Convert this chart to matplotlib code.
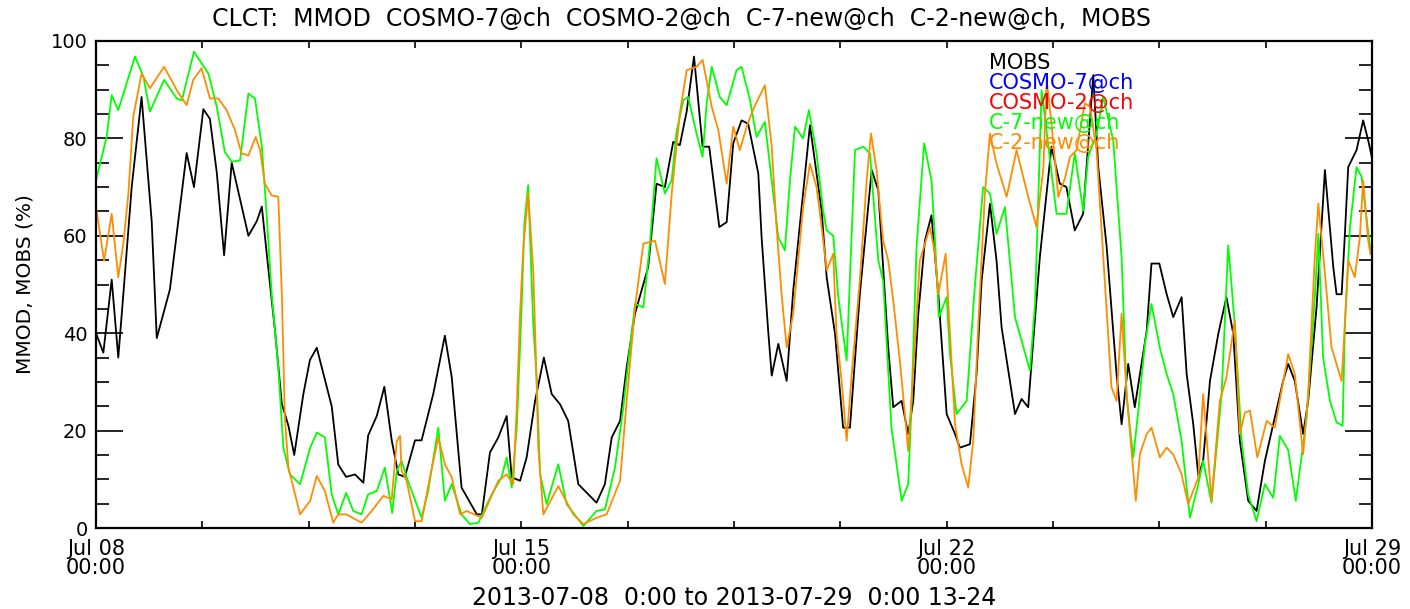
import matplotlib
matplotlib.use('Agg')
import matplotlib.pyplot as plt
from matplotlib.ticker import MultipleLocator, FixedLocator

# hours since 2013-07-08 00:00, cloud cover in %
mobs = [(0, 40), (2.9, 36), (6.2, 51), (8.8, 35), (10.8, 48), (14.1, 70), (18, 88.5), (22, 63), (24, 39),
        (29.2, 49), (35.8, 77), (38.7, 70), (42.4, 86), (45, 84), (47.7, 73), (50.6, 56), (53.6, 75),
        (60.2, 60), (63.5, 63), (65.5, 66), (67.5, 56), (70.8, 40), (73.4, 25.5), (76, 21), (78.3, 15),
        (81.9, 27.5), (84.5, 34.5), (87.2, 37), (93.1, 25), (95.7, 13), (98.8, 10.5), (102.3, 11),
        (105.6, 9.3), (107.5, 19), (110.9, 23), (113.9, 29), (116.8, 18), (119.4, 11), (122, 10.5),
        (126, 18), (128.6, 18), (133.2, 27.5), (137.8, 39.5), (140.5, 31), (144.4, 8.3), (150.4, 2.8),
        (152.4, 2.8), (155.6, 15.5), (158.9, 18.6), (162.2, 23), (164.2, 10.4), (167.5, 9.7),
        (170.1, 14.5), (173.4, 26), (176.9, 35), (180, 27.5), (183.3, 25.4), (186.5, 22), (190.5, 9),
        (197.7, 5.2), (201, 9), (203.7, 18.6), (207, 22), (209.6, 33), (212.9, 44), (218.1, 53.6),
        (221.4, 70.7), (224.7, 70), (228, 79.3), (230.6, 78.6), (233.3, 85.5), (236.2, 96.8),
        (239.6, 78.3), (242.2, 78.3), (246.2, 61.8), (249.1, 62.8), (251.7, 79), (255, 83.7),
        (257.6, 83), (261.6, 72.8), (262.9, 59.7), (265.5, 40.5), (266.9, 31.3), (269.5, 37.8),
        (272.8, 30.2), (275.4, 48.8), (282, 82.7), (286.6, 65.2), (288.6, 51.5), (291.9, 39.9),
        (295.1, 20.6), (297.8, 20.6), (301.7, 48), (306.4, 73.5), (309, 69.3), (312.9, 37.1),
        (314.9, 24.8), (318.2, 26.1), (320.8, 19.3), (322.8, 26.1), (324.8, 44), (327.4, 59),
        (330, 64.2), (332.7, 48), (336, 23.4), (339.3, 19.3), (341.2, 16.5), (345.2, 17.2),
        (347.8, 31.6), (349.8, 50.8), (353.1, 66.6), (355.7, 54.9), (357.7, 41.2), (363, 23.4),
        (365.6, 26.5), (368.2, 24.8), (369.6, 34.4), (372.8, 55.6), (377.4, 78.3), (380.7, 70.7),
        (383.3, 70), (386.6, 61.1), (389.9, 64.5), (393.9, 93), (395.9, 74), (399.2, 57.7),
        (403.1, 31.6), (405.1, 21.3), (407.7, 33.7), (410.3, 24.8), (415, 40.5), (416.9, 54.3),
        (420, 54.3), (422.9, 48), (425.5, 43.3), (428.8, 47.4), (430.8, 31.6), (433.4, 21.3),
        (435.4, 10.7), (437.3, 13.8), (440, 30.2), (443.3, 39.9), (446.5, 47.4), (449.2, 39.9),
        (451.8, 17.9), (455.1, 5.6), (458.4, 3.5), (461.7, 13.8), (465.6, 22.7), (468.9, 30.2),
        (470.9, 33.7), (473.5, 30.2), (476.8, 19.3), (478.8, 26.1), (482.1, 45.3), (485.4, 73.5),
        (488.7, 53.6), (490, 48), (492, 48), (493.3, 60.4), (494.6, 74.1), (497.9, 77.6),
        (500.5, 83.7), (502.5, 79.6), (504, 76)]

c7_new = [(0, 71.4), (4.2, 80.3), (6.2, 88.9), (8.8, 85.8), (15.4, 96.8), (18.7, 92.7), (21.3, 85.5),
          (26.9, 92), (31.9, 88.2), (33.9, 87.8), (38.7, 97.8), (44.4, 93.3), (47.7, 86.5), (50.9, 77.2),
          (53.6, 75.2), (56.9, 75.5), (60.2, 89.2), (62.8, 88.2), (65.5, 78.3), (67.2, 65.9), (69.4, 48),
          (72, 33), (74, 16.5), (76.6, 11), (80.6, 9), (84.6, 16.5), (87.2, 19.6), (90.4, 18.6),
          (93.1, 6.9), (95.7, 2.8), (98.8, 7.2), (101.6, 3.5), (104.9, 2.8), (107.5, 6.9), (110.9, 7.6),
          (114.1, 12.4), (117, 3.1), (118.8, 11.7), (120.7, 13.8), (122.7, 10.4), (128.6, 2.1),
          (131.2, 7.6), (135.2, 20.6), (137.8, 5.6), (140.5, 9), (144.4, 2.8), (147.7, 0.8), (151, 1.1),
          (156.3, 6.9), (160.2, 10.4), (162.2, 14.5), (164.2, 8.3), (166.2, 20.6), (168.1, 45.3),
          (169.2, 62.5), (170.7, 70.4), (172.7, 41.9), (174, 30.9), (175.4, 11), (178, 4.9),
          (182.6, 13.1), (185.9, 4.9), (192.5, 0.4), (197.7, 3.5), (201, 3.8), (205, 12.4),
          (208.3, 24.8), (210.9, 37.1), (212.9, 46), (216.2, 45.3), (218.8, 58.4), (221.4, 75.9),
          (224.7, 68.7), (227.4, 71.4), (229.3, 81.3), (232, 87.9), (233.9, 88.5), (237.2, 81),
          (239.6, 76.2), (241.2, 87.2), (243.2, 94.7), (246.4, 88.5), (249.1, 86.8), (253, 94),
          (255, 94.7), (258.3, 87.9), (260.9, 80.3), (264.2, 83.4), (266.9, 71.4), (269.5, 59.7),
          (272.1, 57), (274.1, 71.4), (276.1, 82.4), (279.3, 80), (281.6, 85.8), (284.6, 76.9),
          (287.2, 65.2), (288.6, 61.1), (291.2, 60), (293.2, 47.4), (296.5, 34.4), (299.8, 77.6),
          (303.1, 78.3), (305.7, 76.9), (309, 54.9), (310.9, 50.8), (314.2, 20.6), (318.2, 5.6),
          (320.8, 9), (322.1, 24.8), (324.1, 57.7), (327.1, 79), (330, 71.4), (331.4, 59),
          (332.9, 43.3), (336, 47.4), (337.3, 35.7), (339.9, 23.4), (343.9, 26.1), (347.2, 50.1),
          (350.4, 70), (353.1, 68.7), (355.7, 60.4), (359, 65.9), (363, 43.3), (368.9, 32.3),
          (370.9, 46), (373.5, 89.9), (379.4, 64.5), (383.3, 64.5), (386.6, 76.9), (389.9, 65.2),
          (391.9, 76.2), (395.2, 80.9), (397.8, 88.5), (401.8, 79.6), (405.1, 55.6), (407.1, 26.8),
          (409.7, 14.5), (411.7, 24.1), (414.3, 37.8), (416.9, 46), (420.2, 37), (422.9, 31.6),
          (425.5, 27.5), (428.8, 17.9), (432.1, 2.1), (435.4, 9), (437.3, 13.8), (440.6, 5.2),
          (444.6, 27.5), (447.2, 58), (449.8, 41.9), (452.5, 17.9), (455.1, 6.9), (458.4, 1.4),
          (461.7, 9), (465, 6.2), (467.6, 18.9), (470.9, 16), (473.9, 5.6), (478.2, 22.7),
          (481.4, 47.4), (482.8, 60.4), (484.7, 35), (487.4, 26.1), (490, 21.7), (492.4, 21),
          (493.3, 41.9), (495.3, 61.8), (497.9, 74.1), (499.9, 72.1), (503.2, 57.7), (504, 56)]

c2_new = [(0, 65.9), (1.6, 60.4), (3.2, 54.9), (6.2, 64.5), (8.8, 51.5), (10.8, 58.4), (12.8, 68.7),
          (14.7, 84.4), (18, 93.3), (21.3, 90.3), (26.9, 94.7), (31.9, 89.9), (35.8, 86.8), (38.4, 92),
          (41.7, 94.4), (45, 88.2), (48.3, 88.2), (51.6, 85.8), (54.9, 81.7), (57.5, 76.9), (60.2, 76.5),
          (63.1, 80.3), (64.8, 77.6), (66.7, 70.7), (69.4, 68.3), (72, 68), (73.4, 48), (74.6, 22.7),
          (76, 12.4), (80.6, 2.8), (84.6, 5.6), (87.2, 10.7), (90.4, 7.6), (93.7, 1.1), (95.7, 2.8),
          (98.8, 2.8), (104.9, 1.1), (108.9, 3.5), (113.5, 6.6), (116.8, 5.9), (118.8, 17.9),
          (120.1, 18.9), (120.7, 11.7), (122.7, 9.7), (126, 1.4), (128.6, 1.4), (131.9, 10.4),
          (135.2, 18.6), (137.8, 13.1), (140.5, 10.4), (143.8, 2.8), (146.4, 3.5), (152.4, 2.1),
          (158.9, 9.7), (162.2, 11), (164.8, 9), (166.2, 24.8), (167.5, 44), (168.8, 57.7),
          (170.7, 68.7), (172.7, 52.9), (174, 30.9), (174.7, 16.5), (176.7, 2.8), (182.6, 8.6),
          (188.5, 2.8), (192.5, 0.8), (197.7, 2.1), (201.7, 2.8), (207, 9.7), (209.6, 26.1),
          (212.9, 45.3), (216.2, 58.4), (220.8, 59), (224.7, 50.1), (227.4, 68.7), (230.6, 85.1),
          (233.3, 94), (237.2, 94.7), (239.6, 96.1), (243.2, 86.5), (245.8, 81.7), (249.1, 70.7),
          (251.7, 82.4), (254.3, 77.6), (257, 82.4), (259.6, 86), (264.2, 90.9), (266.9, 78.3),
          (268.8, 61.8), (270.8, 48), (272.8, 37.1), (275.4, 44), (279.3, 65.9), (282, 74.8),
          (284.6, 70), (286.6, 61.8), (288.6, 52.9), (291.2, 56.3), (292.5, 39.9), (294.5, 30.2),
          (296.5, 17.9), (298.5, 31.6), (301.7, 50.8), (304.4, 71.4), (306.1, 81), (308.3, 73.5),
          (310.9, 59), (312.9, 55), (314.9, 46.7), (317.5, 34.4), (319.5, 23.4), (320.8, 15.8),
          (322.8, 32.3), (325.4, 54.9), (329.4, 61.8), (331.4, 56.3), (332.7, 48), (335.6, 56.3),
          (337.3, 39.9), (339.3, 21.3), (341.9, 13.1), (344.5, 8.3), (346.5, 17.9), (348.5, 41.9),
          (351.1, 68.7), (353.1, 81), (355.7, 74.8), (359.7, 68), (363.6, 77.6), (368.2, 68),
          (371.5, 61.8), (374.2, 74), (375.5, 92), (377.4, 83), (380.1, 68), (381.4, 70),
          (382.7, 71.8), (384.7, 76.2), (387.3, 77.6), (390.6, 87.2), (392.6, 86.5), (395.2, 77.6),
          (397.2, 61.1), (399.2, 44.7), (401.1, 28.9), (403.1, 26.1), (405.1, 44), (407.1, 27.5),
          (409, 15.8), (410.7, 5.6), (412.3, 15.1), (415, 19.3), (416.9, 20.6), (420.2, 14.5),
          (422.9, 16.5), (425.5, 15.1), (428.8, 11), (431.4, 4.9), (435.4, 10.4), (437.3, 27.5),
          (439.3, 14.5), (440.6, 5.6), (443.9, 26.1), (446.5, 30.9), (449.8, 42.6), (451.8, 19.3),
          (453.8, 23.7), (455.8, 24.1), (458.7, 14.5), (462.4, 22), (465.6, 20.6), (470.9, 35.7),
          (473.5, 31.6), (476.8, 15.1), (478.8, 27.5), (481.4, 55.6), (482.8, 66.6), (485.4, 52.2),
          (488, 37.1), (492, 30.2), (493.3, 41.9), (494.6, 54.9), (497.2, 51.5), (499.2, 59.7),
          (500.5, 71.4), (502.5, 59), (503.4, 56.3)]

legend_names = ['MOBS', 'COSMO-7@ch', 'COSMO-2@ch', 'C-7-new@ch', 'C-2-new@ch']
legend_colors = ['black', '#0000ff', '#ff0000', '#00ff00', '#ff8c00']
date_labels = ['Jul 08\n00:00', 'Jul 15\n00:00', 'Jul 22\n00:00', 'Jul 29\n00:00']

W, H = 1410, 609
fig = plt.figure(figsize=(W / 100, H / 100), dpi=100)
ax = fig.add_axes([96 / W, 1 - 528 / H, (1372 - 96) / W, (528 - 41) / H])

for series, col in [(mobs, 'black'), (c7_new, '#00ff00'), (c2_new, '#ff8c00')]:
    t, v = zip(*series)
    ax.plot(t, v, color=col, lw=1.3)

ax.set_xlim(0, 504)
ax.set_ylim(0, 100)

# x ticks every 42 h, labels every week
ax.xaxis.set_major_locator(FixedLocator([42 * i for i in range(13)]))
xlabels = ['' for i in range(13)]
for i, lab in enumerate(date_labels):
    xlabels[4 * i] = lab
ax.set_xticklabels(xlabels, fontsize=15, linespacing=0.95)
ax.yaxis.set_major_locator(MultipleLocator(20))
ax.yaxis.set_minor_locator(MultipleLocator(5))
ax.tick_params(axis='x', which='major', direction='in', length=5, width=1.2, top=True, pad=8)
ax.tick_params(axis='y', which='major', direction='in', length=19.5, width=1.2, right=True,
               labelsize=14, pad=6)
ax.tick_params(axis='y', which='minor', direction='in', length=9.5, width=1.2, right=True)
for s in ax.spines.values():
    s.set_linewidth(1.6)

ax.set_ylabel('MMOD, MOBS (%)', fontsize=14.5, labelpad=12)

fig.text(681 / W, 1 - 19 / H, 'CLCT:  MMOD  COSMO-7@ch  COSMO-2@ch  C-7-new@ch  C-2-new@ch,  MOBS',
         ha='center', va='center', fontsize=17)
ax.text(0.5, -0.143, '2013-07-08  0:00 to 2013-07-29  0:00 13-24', transform=ax.transAxes,
        ha='center', va='center', fontsize=17)

for i, (name, col) in enumerate(zip(legend_names, legend_colors)):
    fig.text(989 / W, 1 - (63 + 20 * i) / H, name, color=col, ha='left', va='center', fontsize=15)

fig.savefig('out.png', dpi=100)
